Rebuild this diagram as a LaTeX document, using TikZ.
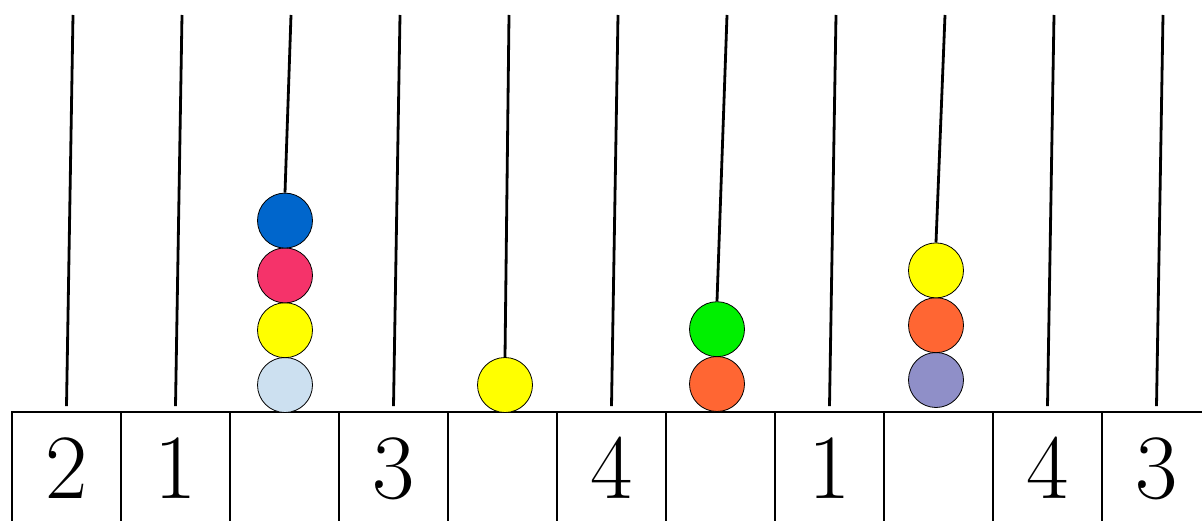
\documentclass[tikz,border=0pt]{standalone}
\usepackage{fontspec}
\newfontfamily\digitfont{Liberation Serif}[Scale=1.0]
\usetikzlibrary{positioning}
\definecolor{BeadBlue}{HTML}{0066CC}
\definecolor{BeadRed}{HTML}{F5336A}
\definecolor{BeadYellow}{HTML}{FFFF00}
\definecolor{BeadSky}{HTML}{CCE0F0}
\definecolor{BeadGreen}{HTML}{00F000}
\definecolor{BeadOrange}{HTML}{FF6633}
\definecolor{BeadLilac}{HTML}{8F8FC8}

\begin{document}
\begin{tikzpicture}[x=1pt,y=1pt,
  cell/.style={draw,line width=1.8pt,minimum width=109pt,minimum height=112pt,inner sep=0pt,
    text height=60pt,text depth=0pt,font=\rmfamily\fontsize{92}{92}\selectfont},
  bead/.style={circle,draw,line width=0.8pt,minimum size=55pt,inner sep=0pt},
  rod/.style={line width=2.8pt}]
  \useasboundingbox (0,0) rectangle (1202,520);
  \fill[white] (0,0) rectangle (1202,520);
  \clip (0,0) rectangle (1202,520);
  % place value cells
  \foreach \d [count=\i] in {2,1,{},3,{},4,{},1,{},4,3}
    \node[cell] (c\i) at ({66.5+109*(\i-1)},52) {\d};
  % rod tops
  \foreach \i in {1,...,11}
    \coordinate (t\i) at ({73+109*(\i-1)},505);
  % beads
  \node[bead,fill=BeadSky] (b31) at (285,135) {};
  \node[bead,fill=BeadYellow,above=-1pt of b31] (b32) {};
  \node[bead,fill=BeadRed,above=-1pt of b32] (b33) {};
  \node[bead,fill=BeadBlue,above=-1pt of b33] (b34) {};
  \node[bead,fill=BeadYellow] (b51) at (505,135) {};
  \node[bead,fill=BeadOrange] (b71) at (717,136) {};
  \node[bead,fill=BeadGreen,above=-1pt of b71] (b72) {};
  \node[bead,fill=BeadLilac] (b91) at (936,140) {};
  \node[bead,fill=BeadOrange,above=-1pt of b91] (b92) {};
  \node[bead,fill=BeadYellow,above=-1pt of b92] (b93) {};
  % rods
  \foreach \i in {1,2,4,6,8,10,11}
    \draw[rod] (t\i) -- ([yshift=5pt]c\i.north);
  \draw[rod] (t3) -- (b34.north);
  \draw[rod] (t5) -- (b51.north);
  \draw[rod] (t7) -- (b72.north);
  \draw[rod] (t9) -- (b93.north);
\end{tikzpicture}
\end{document}
